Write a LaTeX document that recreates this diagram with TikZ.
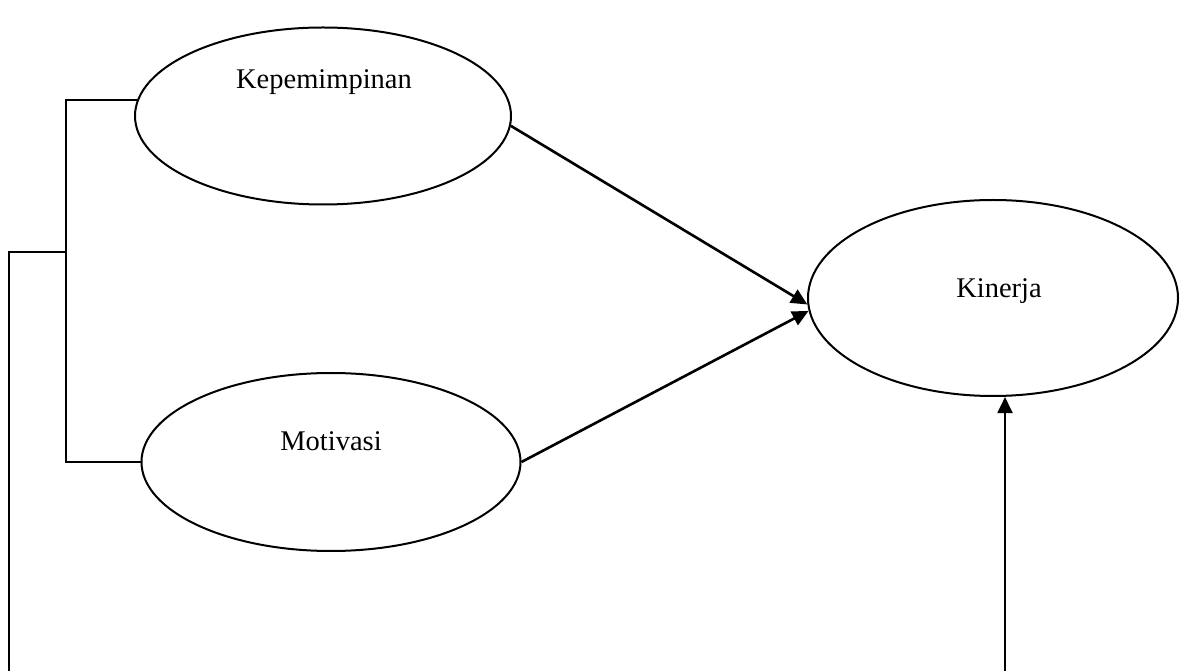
\documentclass[tikz,border=0pt]{standalone}
\usepackage{fontspec}
\setmainfont{Liberation Serif}
\usetikzlibrary{shapes.geometric,arrows.meta}
\tikzset{
  oval/.style={draw, ellipse, line width=0.8pt, inner sep=0pt},
  lbl/.style={anchor=base, inner sep=0pt, font=\fontsize{11.4}{13}\selectfont},
  wire/.style={line width=0.8pt},
  arr/.style={line width=1.05pt, -{Triangle[length=6.5pt,width=6pt]}}
}
\begin{document}
\begin{tikzpicture}[x=0.4pt,y=-0.4pt]
\useasboundingbox (0,0) rectangle (1186,671);
\node[oval, minimum width=376*0.4pt, minimum height=177*0.4pt] (k) at (323,116) {};
\node[oval, minimum width=379*0.4pt, minimum height=178*0.4pt] (m) at (331,462) {};
\node[oval, minimum width=370*0.4pt, minimum height=196*0.4pt] (n) at (993,298) {};
\node[lbl] (kt) at (324,89) {Kepemimpinan};
\node[lbl] (mt) at (331,451) {Motivasi};
\node[lbl] (nt) at (999,298) {Kinerja};
\coordinate (j) at (66,252);
\coordinate (l) at (9,672);
\coordinate (b) at (1005,672);
\draw[wire] (k.175) -- (k.175 -| j) -- (m.west -| j) -- (m.west);
\draw[wire] (j) -- (j -| l) -- (l);
\draw[arr] (k.-3) -- (n.182);
\draw[arr] (m.east) -- (n.184);
\draw[arr] (b) -- (b |- n.south);
\end{tikzpicture}
\end{document}
